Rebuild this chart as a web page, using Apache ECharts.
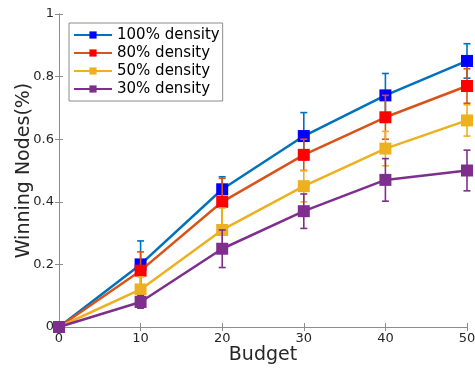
<!DOCTYPE html>
<html>
<head>
<meta charset="utf-8">
<script src="https://cdn.jsdelivr.net/npm/echarts@6/dist/echarts.min.js"></script>
<style>
  html, body { margin: 0; padding: 0; background: #fff; }
  #chart { width: 475px; height: 369px; }
</style>
</head>
<body>
<div id="chart"></div>
<script>
// Budget values along the x axis
const budgets = [0, 10, 20, 30, 40, 50];

// Mean fraction of winning nodes per density level
const density100 = [0, 0.20, 0.44, 0.61, 0.74, 0.85];
const density80  = [0, 0.18, 0.40, 0.55, 0.67, 0.77];
const density50  = [0, 0.12, 0.31, 0.45, 0.57, 0.66];
const density30  = [0, 0.08, 0.25, 0.37, 0.47, 0.50];

// Symmetric error (half-length of each error bar)
const err100 = [0, 0.075, 0.040, 0.075, 0.070, 0.055];
const err80  = [0, 0.060, 0.075, 0.050, 0.070, 0.055];
const err50  = [0, 0.040, 0.070, 0.050, 0.055, 0.050];
const err30  = [0, 0.020, 0.060, 0.055, 0.068, 0.065];

const seriesNames = ['100% density', '80% density', '50% density', '30% density'];
const xTicks = [0, 10, 20, 30, 40, 50];
const yTicks = [0, 0.2, 0.4, 0.6, 0.8, 1];

const groups = [
  { name: seriesNames[0], values: density100, errors: err100, line: '#0072BD', marker: '#0000FF' },
  { name: seriesNames[1], values: density80,  errors: err80,  line: '#D95319', marker: '#FF0000' },
  { name: seriesNames[2], values: density50,  errors: err50,  line: '#EDB120', marker: '#EDB120' },
  { name: seriesNames[3], values: density30,  errors: err30,  line: '#7E2F8E', marker: '#7E2F8E' }
];

const FONT = 'DejaVu Sans';
const axisGray = '#8c8c8c';
const textDark = '#262626';

function errorBarRenderer(color) {
  return function (params, api) {
    const x = api.value(0), y = api.value(1), e = api.value(2);
    if (!e) return null;
    const top = api.coord([x, y + e]);
    const bot = api.coord([x, y - e]);
    const hw = 3.5;
    const style = { stroke: color, lineWidth: 1.6, fill: null };
    return {
      type: 'group',
      children: [
        { type: 'line', shape: { x1: top[0], y1: top[1], x2: bot[0], y2: bot[1] }, style },
        { type: 'line', shape: { x1: top[0] - hw, y1: top[1], x2: top[0] + hw, y2: top[1] }, style },
        { type: 'line', shape: { x1: bot[0] - hw, y1: bot[1], x2: bot[0] + hw, y2: bot[1] }, style }
      ]
    };
  };
}

// Lines with square markers come first so the legend picks them up
const series = [];
groups.forEach((g, i) => {
  series.push({
    name: g.name,
    type: 'line',
    data: budgets.map((b, k) => [b, g.values[k]]),
    symbol: 'rect',
    symbolSize: 12,
    showAllSymbol: true,
    lineStyle: { color: g.line, width: 2.5 },
    itemStyle: { color: g.marker, borderWidth: 0 },
    z: 11 + i * 2,
    animation: false
  });
});
// Error bars, drawn just beneath their own group's line
groups.forEach((g, i) => {
  series.push({
    name: g.name + ' error',
    type: 'custom',
    renderItem: errorBarRenderer(g.line),
    data: budgets.map((b, k) => [b, g.values[k], g.errors[k]]),
    encode: { x: 0, y: 1 },
    z: 10 + i * 2,
    silent: true
  });
});

const chart = echarts.init(document.getElementById('chart'), null, { renderer: 'canvas' });
chart.setOption({
  animation: false,
  backgroundColor: '#ffffff',
  grid: { left: 59, right: 8, top: 14, bottom: 42, containLabel: false, outerBoundsMode: 'none' },
  legend: {
    data: seriesNames,
    orient: 'vertical',
    left: 69,
    top: 23,
    padding: [3, 3, 3, 4],
    itemGap: 0,
    itemWidth: 38,
    itemHeight: 9,
    borderColor: axisGray,
    borderWidth: 1,
    borderRadius: 0,
    backgroundColor: '#ffffff',
    textStyle: { fontFamily: FONT, fontSize: 15, lineHeight: 18, color: '#000', padding: [0, 0, 0, 0] }
  },
  xAxis: [
    {
      type: 'value', min: 0, max: 50, interval: 10,
      name: 'Budget', nameLocation: 'middle', nameGap: 19, nameMoveOverlap: false,
      nameTextStyle: { fontFamily: FONT, fontSize: 19, color: textDark },
      axisLine: { lineStyle: { color: axisGray, width: 1 } },
      axisTick: { inside: true, length: 4, lineStyle: { color: axisGray } },
      axisLabel: { fontFamily: FONT, fontSize: 13, color: textDark, margin: 5,
        formatter: v => xTicks.includes(v) ? String(v) : '' },
      splitLine: { show: false }
    },
    {
      type: 'value', min: 0, max: 50, interval: 10, position: 'top',
      axisLine: { lineStyle: { color: axisGray, width: 1 } },
      axisTick: { inside: true, length: 4, lineStyle: { color: axisGray } },
      axisLabel: { show: false },
      splitLine: { show: false }
    }
  ],
  yAxis: [
    {
      type: 'value', min: 0, max: 1, interval: 0.2,
      name: 'Winning Nodes(%)', nameLocation: 'middle', nameGap: 25, nameRotate: 90,
      nameMoveOverlap: false,
      nameTextStyle: { fontFamily: FONT, fontSize: 19, color: textDark },
      axisLine: { show: true, lineStyle: { color: axisGray, width: 1 } },
      axisTick: { show: true, inside: true, length: 4, lineStyle: { color: axisGray } },
      axisLabel: { fontFamily: FONT, fontSize: 13, color: textDark, margin: 5,
        formatter: v => {
          const t = yTicks.find(k => Math.abs(k - v) < 1e-9);
          return t === undefined ? '' : String(t);
        } },
      splitLine: { show: false }
    },
    {
      type: 'value', min: 0, max: 1, interval: 0.2, position: 'right',
      axisLine: { show: true, lineStyle: { color: axisGray, width: 1 } },
      axisTick: { show: true, inside: true, length: 4, lineStyle: { color: axisGray } },
      axisLabel: { show: false },
      splitLine: { show: false }
    }
  ],
  series
});
</script>
</body>
</html>
